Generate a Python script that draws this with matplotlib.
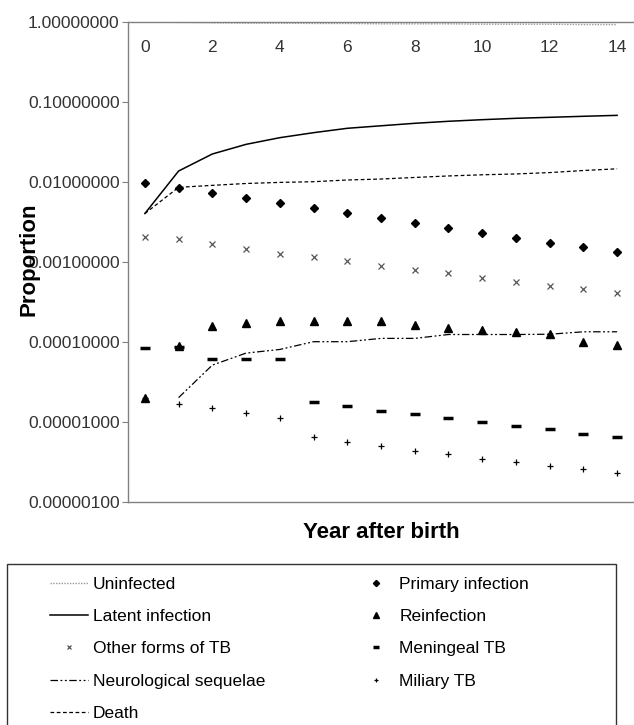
import matplotlib
matplotlib.use('Agg')
import matplotlib.pyplot as plt
import matplotlib.patches as mpatches
from matplotlib.ticker import FixedLocator, FuncFormatter

plt.rcParams['font.family'] = ['Liberation Sans', 'DejaVu Sans']

# Data (proportion by year after birth)
years = list(range(15))
uninfected = [0.99, 0.98, 0.97, 0.96, 0.96, 0.95, 0.95, 0.94, 0.94, 0.94, 0.93, 0.93, 0.93, 0.92, 0.92]
latent = [0.0040, 0.0136, 0.0222, 0.0293, 0.0355, 0.0410, 0.0465, 0.0500, 0.0537,
          0.0569, 0.0596, 0.0620, 0.0638, 0.0657, 0.0675]
death = [0.0040, 0.0085, 0.0090, 0.0095, 0.0098, 0.0100, 0.0105, 0.0108, 0.0113,
         0.0118, 0.0122, 0.0125, 0.0130, 0.0138, 0.0145]
primary = [0.0096, 0.0084, 0.0073, 0.0062, 0.0054, 0.0047, 0.0041, 0.00355, 0.00305,
           0.00261, 0.00228, 0.0020, 0.00173, 0.00151, 0.00131]
other_tb = [0.00206, 0.0019, 0.00165, 0.00143, 0.00124, 0.00115, 0.00101, 0.00089, 0.00079,
            0.00072, 0.00063, 0.00056, 0.0005, 0.00046, 0.00041]
reinfection = [2.0e-5, 8.9e-5, 1.55e-4, 1.70e-4, 1.8e-4, 1.8e-4, 1.8e-4, 1.8e-4, 1.6e-4,
               1.5e-4, 1.4e-4, 1.33e-4, 1.25e-4, 1.0e-4, 9.1e-5]
meningeal = [8.3e-5, 8.5e-5, 6.1e-5, 6.1e-5, 6.1e-5, 1.76e-5, 1.58e-5, 1.37e-5, 1.24e-5,
             1.1e-5, 9.9e-6, 8.8e-6, 8.0e-6, 7.1e-6, 6.5e-6]
miliary = [2.0e-5, 1.68e-5, 1.47e-5, 1.27e-5, 1.11e-5, 6.4e-6, 5.6e-6, 5.0e-6, 4.3e-6,
           3.9e-6, 3.45e-6, 3.1e-6, 2.8e-6, 2.57e-6, 2.3e-6]
neuro_years = list(range(1, 15))
neuro = [2.0e-5, 5.1e-5, 7.2e-5, 8.0e-5, 1.0e-4, 1.0e-4, 1.1e-4, 1.1e-4, 1.23e-4,
         1.23e-4, 1.23e-4, 1.24e-4, 1.33e-4, 1.33e-4]
y_ticks = [1e-6, 1e-5, 1e-4, 1e-3, 1e-2, 1e-1, 1.0]
x_ticks = list(range(0, 15, 2))

GRAY = '#808080'
TEXT = '#333333'

fig = plt.figure(figsize=(6.34, 7.25), dpi=100)
ax = fig.add_axes([128 / 634, 1 - 501.7 / 725, 506 / 634, 480 / 725])

# Lines
h_un, = ax.plot(years, uninfected, color='#999999', lw=1.0, ls=(0, (1, 1)), label='Uninfected')
h_lat, = ax.plot(years, latent, color='black', lw=1.1, label='Latent infection')
h_neu, = ax.plot(neuro_years, neuro, color='black', lw=0.9, ls=(0, (6, 2, 1.5, 2, 1.5, 2)),
                 label='Neurological sequelae')
h_dea, = ax.plot(years, death, color='black', lw=0.9, ls=(0, (3, 2)), label='Death')

# Markers
h_oth, = ax.plot(years, other_tb, ls='none', marker='x', ms=4, mew=0.9, color='#555555',
                 label='Other forms of TB')
h_pri, = ax.plot(years, primary, ls='none', marker='D', ms=4.5, color='black', label='Primary infection')
h_rei, = ax.plot(years, reinfection, ls='none', marker='^', ms=5.5, color='black', label='Reinfection')
h_men, = ax.plot(years, meningeal, ls='none', marker='_', ms=7, mew=2.5, color='black', label='Meningeal TB')
h_mil, = ax.plot(years, miliary, ls='none', marker='+', ms=5, mew=0.9, color='black', label='Miliary TB')

ax.set_yscale('log')
ax.set_ylim(1e-6, 1.0)
ax.set_xlim(-0.5, 14.5)
ax.yaxis.set_major_locator(FixedLocator(y_ticks))
ax.yaxis.set_minor_locator(FixedLocator([]))
ax.yaxis.set_major_formatter(FuncFormatter(lambda v, p: '%.8f' % v))
ax.tick_params(axis='y', direction='out', length=4, color=GRAY, labelsize=12.5, labelcolor=TEXT, pad=2)

# Category axis crosses at the top of the chart, labels sit just inside
ax.xaxis.tick_top()
ax.set_xticks(x_ticks)
ax.tick_params(axis='x', length=0, labelsize=12.5, labelcolor=TEXT, pad=-24)

for side in ['left', 'bottom', 'top']:
    ax.spines[side].set_color(GRAY)
    ax.spines[side].set_linewidth(1.0)
ax.spines['right'].set_visible(False)

ax.set_ylabel('Proportion', fontsize=16, fontweight='bold', labelpad=2)
ax.yaxis.set_label_coords(-0.175, 0.506)
fig.text(381 / 634, 1 - 533 / 725, 'Year after birth', fontsize=16, fontweight='bold',
         ha='center', va='center')

# Legend box and entries
fig.patches.append(mpatches.Rectangle((7 / 634, -0.01), 609 / 634, 1 - 564 / 725 + 0.01,
                                      transform=fig.transFigure, fill=False,
                                      edgecolor='#333333', lw=1.0))
handles = [h_un, h_lat, h_oth, h_neu, h_dea, h_pri, h_rei, h_men, h_mil]
fig.legend(handles=handles, labels=[h.get_label() for h in handles], ncol=2,
           loc='upper left', bbox_to_anchor=(50 / 634, 1 - 576.5 / 725), frameon=False,
           fontsize=12.5, handlelength=2.2, handletextpad=0.25, columnspacing=5.3,
           labelspacing=0.99, borderpad=0, borderaxespad=0, markerscale=0.7)

fig.savefig('out.png', dpi=100)
